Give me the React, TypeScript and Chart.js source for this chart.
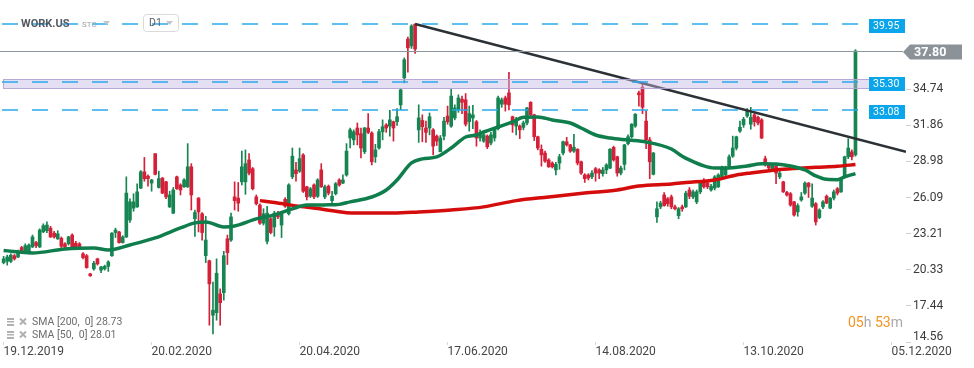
import React, { useEffect, useRef } from 'react';
import { Chart, registerables } from 'chart.js';

Chart.register(...registerables);

// ---------- DATA ----------
const opens = [
  20.9, 21.0, 21.0, 21.45, 21.35, 22.1, 21.85, 21.7, 22.15, 22.5,
  22.15, 23.35, 23.45, 23.65, 23.25, 22.8, 22.85, 22.4, 22.4, 23.1,
  22.45, 22.4, 21.6, 21.45, 20.0, 20.4, 21.2, 20.3, 20.4, 20.6,
  21.45, 23.3, 23.35, 22.5, 22.95, 24.3, 25.25, 25.35, 26.85, 28.15,
  27.8, 27.25, 29.6, 26.9, 27.65, 27.35, 25.35, 24.85, 27.75, 27.1,
  26.95, 26.95, 28.55, 24.4, 26.05, 24.8, 21.45, 21.05, 16.7, 16.9,
  18.4, 18.5, 22.8, 22.7, 26.15, 26.05, 27.35, 27.35, 29.1, 28.4,
  26.15, 25.5, 24.05, 22.6, 24.4, 23.75, 24.85, 23.9, 25.95, 24.8,
  27.75, 28.3, 28.2, 29.5, 26.95, 26.2, 27.1, 26.2, 28.3, 26.15,
  27.0, 25.85, 26.4, 27.5, 27.25, 27.9, 30.85, 30.7, 31.65, 31.2,
  29.75, 31.65, 31.25, 29.35, 30.05, 31.35, 31.9, 31.8, 32.15, 32.15,
  33.5, 35.65, 38.75, 38.2, 39.95, 31.5, 32.25, 31.65, 31.65, 31.5,
  31.0, 29.75, 31.0, 32.6, 31.8, 32.45, 33.1, 33.95, 33.9, 32.15,
  32.45, 32.15, 30.85, 30.6, 31.0, 30.45, 30.85, 31.6, 33.55, 34.05,
  34.45, 32.55, 31.8, 31.8, 31.7, 32.05, 33.7, 32.7, 30.95, 29.95,
  29.65, 29.1, 28.85, 28.3, 28.85, 29.65, 30.55, 30.3, 29.8, 29.95,
  28.95, 27.9, 27.9, 27.75, 28.4, 28.3, 28.0, 28.3, 28.45, 30.1,
  29.35, 28.05, 28.75, 30.4, 30.95, 31.8, 34.45, 34.9, 32.2, 30.7,
  27.95, 24.55, 25.35, 26.3, 26.0, 26.15, 25.35, 24.65, 25.35, 25.35,
  26.7, 26.15, 25.75, 26.55, 27.25, 27.25, 26.7, 26.85, 26.95, 27.75,
  27.9, 28.6, 29.4, 30.05, 31.4, 31.9, 32.6, 31.95, 32.7, 32.5,
  32.3, 29.2, 28.7, 28.4, 28.6, 27.75, 27.35, 26.5, 26.4, 25.75,
  24.95, 25.9, 26.45, 27.25, 25.4, 25.6, 24.5, 25.35, 26.2, 25.25,
  26.05, 26.8, 26.55, 27.75, 29.35, 29.75, 29.5,
];
const closes = [
  21.2, 21.35, 21.5, 21.2, 21.75, 21.85, 22.25, 22.3, 22.95, 22.25,
  23.5, 23.85, 23.9, 22.95, 22.95, 23.2, 22.2, 22.15, 22.95, 22.15,
  22.15, 22.15, 21.3, 20.5, 19.85, 20.85, 20.8, 20.55, 20.6, 20.95,
  23.25, 23.5, 22.5, 22.95, 26.45, 25.75, 25.75, 26.55, 28.15, 27.6,
  27.6, 27.5, 27.95, 27.6, 26.45, 26.15, 26.3, 26.7, 26.8, 26.7,
  27.5, 28.55, 26.3, 24.9, 24.95, 23.3, 22.7, 19.2, 17.1, 20.05,
  17.7, 21.45, 21.7, 24.55, 25.85, 25.65, 28.55, 28.8, 28.05, 26.8,
  25.6, 24.05, 24.8, 24.85, 23.3, 24.85, 24.55, 24.85, 25.4, 27.1,
  29.4, 28.0, 29.2, 26.6, 26.15, 26.8, 26.15, 27.5, 26.95, 26.95,
  26.45, 26.2, 27.2, 27.1, 27.5, 29.8, 31.5, 31.35, 31.1, 30.05,
  31.65, 31.3, 28.95, 29.9, 31.35, 31.75, 31.65, 32.3, 31.65, 32.55,
  34.7, 37.1, 38.05, 39.8, 37.95, 32.45, 31.75, 31.3, 32.55, 30.2,
  30.6, 30.85, 32.2, 32.15, 34.2, 33.25, 34.05, 33.7, 31.95, 32.8,
  32.7, 30.85, 31.25, 31.1, 30.15, 31.1, 31.5, 34.05, 33.9, 33.55,
  33.5, 31.9, 32.35, 31.5, 32.05, 33.25, 32.7, 30.95, 30.05, 29.5,
  29.0, 28.55, 28.55, 28.75, 29.35, 30.55, 30.3, 29.8, 30.1, 28.85,
  28.05, 27.6, 27.65, 28.05, 28.05, 28.05, 28.3, 28.7, 29.95, 29.1,
  28.05, 28.45, 30.3, 30.95, 31.95, 32.75, 34.3, 33.3, 30.7, 28.95,
  29.65, 25.2, 25.65, 25.45, 25.6, 25.35, 25.2, 25.2, 25.2, 26.45,
  26.2, 26.55, 26.55, 27.25, 26.95, 26.95, 27.0, 27.75, 27.9, 28.45,
  28.45, 29.35, 30.05, 30.95, 31.7, 32.35, 33.0, 32.5, 32.15, 32.05,
  30.85, 28.85, 28.45, 28.7, 28.05, 28.05, 26.55, 26.3, 25.5, 24.7,
  25.45, 26.15, 27.25, 26.95, 26.05, 24.15, 25.1, 25.75, 25.65, 26.05,
  26.55, 26.45, 27.5, 29.35, 30.05, 29.35, 37.8,
];
const highs = [
  21.4, 21.5, 21.6, 21.55, 21.9, 22.2, 22.4, 22.4, 23.1, 22.6,
  23.6, 24.0, 24.15, 23.8, 23.4, 23.45, 22.95, 22.5, 23.0, 23.2,
  22.6, 22.5, 21.7, 21.55, 20.05, 21.0, 21.25, 20.6, 20.7, 21.05,
  23.3, 23.65, 23.4, 23.05, 27.75, 26.0, 26.4, 27.2, 28.25, 29.3,
  27.9, 27.55, 29.6, 28.2, 27.7, 27.4, 26.6, 26.9, 27.8, 27.2,
  27.6, 30.4, 28.8, 25.1, 26.1, 24.9, 24.6, 21.1, 19.35, 21.2,
  18.8, 21.8, 23.1, 24.85, 27.35, 27.3, 29.8, 29.9, 29.6, 28.5,
  26.3, 25.6, 25.2, 25.4, 24.5, 25.0, 25.0, 25.0, 26.1, 27.2,
  30.05, 28.9, 30.05, 29.6, 27.0, 26.9, 27.2, 27.6, 28.8, 27.1,
  27.1, 26.6, 27.3, 27.6, 27.9, 30.4, 31.65, 31.5, 32.05, 31.65,
  31.7, 32.8, 31.35, 30.35, 31.55, 32.3, 32.0, 33.05, 32.2, 33.2,
  34.8, 37.25, 38.9, 39.9, 39.95, 33.5, 32.7, 32.2, 32.85, 31.6,
  31.1, 31.05, 32.5, 33.4, 34.75, 33.5, 34.3, 34.2, 34.4, 33.4,
  33.45, 32.25, 31.5, 31.3, 31.1, 31.3, 31.7, 34.2, 34.05, 34.2,
  36.1, 32.6, 32.5, 31.9, 32.2, 33.3, 33.75, 32.75, 31.0, 30.3,
  29.8, 29.2, 28.95, 28.9, 29.55, 30.6, 30.9, 30.35, 31.15, 30.0,
  29.0, 28.0, 28.0, 28.25, 28.5, 28.4, 28.5, 28.8, 30.0, 30.2,
  29.4, 28.6, 30.35, 31.1, 32.0, 32.8, 34.6, 35.2, 33.0, 30.9,
  29.7, 25.75, 25.8, 26.5, 26.1, 26.3, 25.5, 25.3, 25.5, 26.6,
  26.9, 26.7, 26.7, 27.4, 27.6, 27.4, 27.15, 27.85, 28.0, 28.6,
  28.6, 29.5, 31.0, 31.0, 32.2, 32.5, 33.2, 33.3, 32.8, 32.6,
  32.4, 29.4, 28.8, 28.8, 28.7, 28.2, 27.4, 26.6, 26.5, 25.8,
  25.6, 26.5, 27.35, 27.3, 27.2, 25.7, 25.2, 25.85, 26.3, 26.1,
  26.7, 26.9, 27.6, 29.4, 30.8, 29.9, 37.9,
];
const lows = [
  20.8, 20.7, 20.9, 21.1, 21.3, 21.8, 21.8, 21.6, 22.1, 22.1,
  22.1, 23.3, 23.3, 22.9, 22.85, 22.75, 22.1, 22.05, 22.3, 22.05,
  22.05, 22.0, 21.2, 20.45, 19.8, 20.3, 20.7, 20.1, 20.3, 20.2,
  21.4, 22.9, 22.45, 22.45, 22.9, 24.1, 25.0, 25.3, 26.8, 27.4,
  27.0, 26.6, 27.9, 26.85, 26.4, 26.0, 25.3, 24.8, 26.75, 26.3,
  26.9, 26.9, 25.1, 23.0, 23.35, 22.7, 20.9, 15.9, 15.2, 16.3,
  15.9, 17.9, 20.75, 22.6, 25.1, 25.0, 27.1, 26.35, 27.9, 26.7,
  25.5, 23.95, 23.9, 22.4, 23.2, 23.0, 24.4, 22.9, 25.3, 24.7,
  27.6, 27.4, 28.1, 26.5, 25.9, 26.1, 26.0, 26.1, 26.9, 26.0,
  26.3, 25.6, 26.3, 27.0, 27.2, 27.8, 30.05, 30.3, 30.3, 29.25,
  29.6, 31.2, 28.7, 28.9, 29.95, 30.7, 31.3, 31.0, 30.6, 31.85,
  33.1, 35.25, 36.1, 38.0, 37.6, 30.5, 30.55, 30.5, 31.1, 29.5,
  30.25, 29.75, 30.7, 31.95, 31.7, 32.3, 32.9, 32.8, 31.8, 31.4,
  31.6, 30.2, 30.6, 30.5, 30.0, 30.3, 30.6, 31.5, 33.3, 33.0,
  33.1, 31.3, 31.1, 30.8, 31.5, 31.9, 32.5, 30.65, 29.9, 28.6,
  28.9, 28.5, 28.45, 27.9, 28.35, 29.5, 30.2, 29.7, 29.7, 28.7,
  27.95, 27.3, 27.5, 27.6, 27.4, 27.6, 27.8, 28.0, 28.4, 29.0,
  27.8, 27.9, 28.3, 30.3, 30.85, 31.7, 33.4, 32.8, 30.0, 27.6,
  27.9, 24.1, 25.2, 25.4, 25.4, 25.2, 25.1, 24.4, 25.0, 25.3,
  26.0, 26.0, 25.6, 26.4, 26.85, 26.8, 26.6, 26.7, 26.9, 27.6,
  27.8, 28.5, 29.3, 29.9, 31.3, 31.7, 32.5, 31.55, 31.8, 31.9,
  30.8, 28.6, 28.3, 28.3, 27.2, 27.6, 26.5, 26.2, 25.4, 24.6,
  24.6, 25.8, 26.35, 26.1, 25.3, 23.9, 24.4, 25.2, 25.6, 25.2,
  25.9, 26.3, 26.5, 27.7, 29.2, 29.1, 29.4,
];

// SMA readings (bar index, value)
const sma50Idx = [0, 8, 17, 25, 29, 35, 42, 49, 53, 56, 61, 64, 70, 75, 80, 84, 90, 93, 96, 102, 106, 109, 113, 116, 120, 124, 128, 131, 133, 137, 141, 144, 148, 152, 157, 160, 164, 168, 173, 178, 185, 188, 190, 194, 197, 201, 206, 210, 214, 218, 222, 225, 228, 231, 233, 236];
const sma50Val = [21.86, 21.67, 21.99, 22.07, 21.91, 22.31, 22.87, 23.67, 24.07, 24.15, 23.75, 23.83, 24.39, 24.71, 25.19, 25.5, 25.51, 25.55, 25.75, 26.14, 26.7, 27.5, 28.86, 29.18, 29.34, 30.05, 30.93, 31.09, 31.33, 31.73, 32.13, 32.5, 32.53, 32.29, 32.05, 31.65, 31.09, 30.85, 30.69, 30.53, 29.97, 29.4, 29.1, 28.62, 28.45, 28.46, 28.62, 28.8, 28.78, 28.62, 28.3, 27.82, 27.55, 27.52, 27.74, 28.01];
const sma200Idx = [71, 75, 81, 87, 95, 98, 108, 115, 124, 133, 142, 151, 161, 170, 176, 185, 189, 197, 203, 207, 216, 225, 231, 236];
const sma200Val = [25.85, 25.7, 25.43, 25.22, 24.89, 24.86, 24.86, 24.95, 25.11, 25.35, 25.85, 26.14, 26.46, 26.7, 27.02, 27.18, 27.29, 27.5, 27.9, 28.06, 28.35, 28.51, 28.6, 28.73];

const trendX = [114, 250];
const trendY = [39.95, 29.75];

const levels = [39.95, 35.3, 33.08];
const zoneLow = 34.73;
const zoneHigh = 35.54;
const lastPrice = 37.8;

const xTickIdx = [0, 41, 82, 123, 164, 205, 246];
const xTickLabels = ['19.12.2019', '20.02.2020', '20.04.2020', '17.06.2020', '14.08.2020', '13.10.2020', '05.12.2020'];
const yTicks = [14.56, 17.44, 20.33, 23.21, 26.09, 28.98, 31.86, 34.74];

const symbol = 'WORK.US';
const legendRows = ['SMA [200,  0] 28.73', 'SMA [50,  0] 28.01'];
const countdown = ['05', 'h ', '53', 'm'];

// ---------- STYLE ----------
const GREEN = '#168552';
const RED = '#d42038';
const FONT = 'Roboto, "Noto Sans", Arial, sans-serif';

const overlay = {
  id: 'overlay',
  beforeDraw(chart: any) {
    const ys = chart.scales.y;
    const items = ys.getLabelItems(chart.chartArea);
    items.forEach((it: any) => {
      if (it.label === '14.56') {
        const t = it.options.translation;
        it.options.translation = [t[0], t[1] - 5];
      }
    });
  },
  afterDatasetsDraw(chart: any) {
    const { ctx, chartArea: a, scales } = chart;
    const y = scales.y;
    ctx.save();
    // zone
    const zt = Math.round(y.getPixelForValue(zoneHigh));
    const zb = Math.round(y.getPixelForValue(zoneLow));
    const zl = a.left + 3;
    const zr = a.right - 35;
    ctx.fillStyle = 'rgba(196,184,226,0.45)';
    ctx.fillRect(zl, zt, zr - zl, zb - zt);
    ctx.strokeStyle = 'rgba(175,160,210,0.85)';
    ctx.lineWidth = 1;
    ctx.strokeRect(zl + 0.5, zt + 0.5, zr - zl - 1, zb - zt - 1);
    // dashed levels
    ctx.setLineDash([16, 14]);
    ctx.lineWidth = 2;
    ctx.strokeStyle = 'rgba(40,168,238,0.75)';
    levels.forEach((v) => {
      const py = Math.round(y.getPixelForValue(v));
      ctx.beginPath();
      ctx.moveTo(a.left + 2, py);
      ctx.lineTo(a.right - 38, py);
      ctx.stroke();
    });
    ctx.setLineDash([]);
    // last price line
    const lp = Math.round(y.getPixelForValue(lastPrice)) + 0.5;
    ctx.strokeStyle = '#8d969c';
    ctx.lineWidth = 1;
    ctx.beginPath();
    ctx.moveTo(a.left, lp);
    ctx.lineTo(a.right - 3, lp);
    ctx.stroke();
    ctx.restore();
  },
  afterDraw(chart: any) {
    const { ctx, chartArea: a, scales } = chart;
    const y = scales.y;
    ctx.save();
    ctx.textBaseline = 'middle';
    ctx.textAlign = 'left';
    // level boxes
    levels.forEach((v) => {
      const cy = Math.round(y.getPixelForValue(v) + 1.5);
      const bx = a.right - 37;
      ctx.fillStyle = '#0ba5ec';
      ctx.fillRect(bx, cy - 7, 36, 14);
      ctx.fillStyle = '#ffffff';
      ctx.font = `10.5px ${FONT}`;
      ctx.fillText(v.toFixed(2), bx + 4, cy + 0.5);
    });
    // last price arrow
    const lpY = Math.round(y.getPixelForValue(lastPrice)) + 1;
    ctx.fillStyle = '#8b9399';
    ctx.beginPath();
    ctx.moveTo(a.right - 3, lpY);
    ctx.lineTo(a.right + 4, lpY - 7.5);
    ctx.lineTo(a.right + 56, lpY - 7.5);
    ctx.lineTo(a.right + 56, lpY + 7.5);
    ctx.lineTo(a.right + 4, lpY + 7.5);
    ctx.closePath();
    ctx.fill();
    ctx.fillStyle = '#ffffff';
    ctx.font = `bold 12.5px ${FONT}`;
    ctx.fillText(lastPrice.toFixed(2), a.right + 8, lpY + 0.5);

    // header
    ctx.fillStyle = '#535a60';
    ctx.font = `bold 11px ${FONT}`;
    ctx.fillText(symbol, 21, 24);
    ctx.fillStyle = '#9aa1a7';
    ctx.font = `8px ${FONT}`;
    ctx.fillText('STC', 82, 25);
    const tri = (x: number, yy: number) => {
      ctx.fillStyle = '#c2c6ca';
      ctx.beginPath();
      ctx.moveTo(x, yy);
      ctx.lineTo(x + 7, yy);
      ctx.lineTo(x + 3.5, yy + 4);
      ctx.closePath();
      ctx.fill();
    };
    tri(103, 21);
    ctx.strokeStyle = '#dadada';
    ctx.lineWidth = 1;
    ctx.beginPath();
    (ctx as any).roundRect(143.5, 14.5, 35, 17, 3);
    ctx.stroke();
    ctx.fillStyle = '#5a5f64';
    ctx.font = `10.5px ${FONT}`;
    ctx.fillText('D1', 149, 23.5);
    tri(166, 21);

    // legend
    legendRows.forEach((txt, k) => {
      const cy = 322 + k * 13;
      ctx.fillStyle = '#b0b0b0';
      ctx.fillRect(7, cy - 4, 7, 2);
      ctx.fillRect(7, cy - 1, 7, 1.5);
      ctx.fillRect(7, cy + 2, 7, 2);
      ctx.strokeStyle = '#b0b0b0';
      ctx.lineWidth = 2;
      ctx.beginPath();
      ctx.moveTo(20, cy - 3.5);
      ctx.lineTo(26, cy + 2.5);
      ctx.moveTo(26, cy - 3.5);
      ctx.lineTo(20, cy + 2.5);
      ctx.stroke();
      ctx.fillStyle = '#6d6d6d';
      ctx.font = `10.5px ${FONT}`;
      ctx.fillText(txt, 32, cy + 0.5);
    });

    // countdown
    ctx.font = `14px ${FONT}`;
    let cx = 848;
    countdown.forEach((s, k) => {
      ctx.fillStyle = k % 2 === 0 ? '#f7931e' : '#a9a9a9';
      ctx.fillText(s, cx, 323);
      cx += ctx.measureText(s).width;
    });
    ctx.restore();
  },
};

export default function App() {
  const ref = useRef<HTMLCanvasElement>(null);
  useEffect(() => {
    const canvas = ref.current;
    if (!canvas) return;
    Chart.defaults.font.family = FONT;
    const idx = opens.map((_, i) => i);
    const colors = idx.map((i) => (closes[i] >= opens[i] ? GREEN : RED));
    const chart = new Chart(canvas, {
      type: 'bar',
      data: {
        datasets: [
          {
            type: 'line',
            label: 'trend',
            data: trendX.map((x, i) => ({ x, y: trendY[i] })),
            borderColor: '#2c3136',
            borderWidth: 2.5,
            pointRadius: 0,
            order: 1,
          } as any,
          {
            type: 'line',
            label: 'SMA50',
            data: sma50Idx.map((x, i) => ({ x, y: sma50Val[i] })),
            borderColor: '#0f7d4c',
            borderWidth: 3.5,
            pointRadius: 0,
            cubicInterpolationMode: 'monotone',
            order: 2,
          } as any,
          {
            type: 'line',
            label: 'SMA200',
            data: sma200Idx.map((x, i) => ({ x, y: sma200Val[i] })),
            borderColor: '#d40c0c',
            borderWidth: 3.5,
            pointRadius: 0,
            cubicInterpolationMode: 'monotone',
            order: 3,
          } as any,
          {
            type: 'bar',
            label: 'body',
            data: idx.map((i) => ({ x: i, y: [opens[i], closes[i]] })),
            backgroundColor: colors,
            barThickness: 3,
            grouped: false,
            minBarLength: 1,
            order: 4,
          } as any,
          {
            type: 'bar',
            label: 'wick',
            data: idx.map((i) => ({ x: i, y: [lows[i], highs[i]] })),
            backgroundColor: colors,
            barThickness: 1,
            grouped: false,
            order: 5,
          } as any,
        ],
      },
      options: {
        responsive: false,
        maintainAspectRatio: false,
        animation: false,
        events: [],
        layout: { padding: 0 },
        plugins: { legend: { display: false }, tooltip: { enabled: false } },
        scales: {
          x: {
            type: 'linear',
            min: -1,
            max: 250,
            bounds: 'data',
            offset: false,
            position: 'bottom',
            border: { display: false },
            grid: { drawOnChartArea: false, drawTicks: true, tickLength: 3, color: '#d8d8d8', offset: false },
            ticks: {
              autoSkip: false,
              maxRotation: 0,
              minRotation: 0,
              align: 'start',
              padding: 0,
              color: '#454545',
              font: { family: FONT, size: 12 },
              callback: (v: any) => {
                const k = xTickIdx.indexOf(Number(v));
                return k >= 0 ? xTickLabels[k] : '';
              },
            },
            afterBuildTicks: (s: any) => {
              s.ticks = xTickIdx.map((v) => ({ value: v }));
            },
            afterFit: (s: any) => {
              s.height = 26;
              s.paddingLeft = 0;
              s.paddingRight = 0;
            },
          } as any,
          y: {
            type: 'linear',
            position: 'right',
            min: 14.56,
            max: 41.87,
            bounds: 'data',
            border: { display: false },
            grid: { drawOnChartArea: false, drawTicks: true, tickLength: 5, color: '#d0d0d0' },
            ticks: {
              padding: 2,
              color: '#3a3a3a',
              font: { family: FONT, size: 12 },
              callback: (v: any) => Number(v).toFixed(2),
            },
            afterBuildTicks: (s: any) => {
              s.ticks = yTicks.map((v) => ({ value: v }));
            },
            afterFit: (s: any) => {
              s.width = 68;
              s.paddingTop = 0;
              s.paddingBottom = 0;
            },
          } as any,
        },
      },
      plugins: [overlay as any],
    });
    return () => chart.destroy();
  }, []);

  return (
    <div style={{ position: 'fixed', left: 0, top: 0, width: 974, height: 368, background: '#ffffff' }}>
      <canvas ref={ref} width={974} height={368} style={{ display: 'block' }} />
    </div>
  );
}
